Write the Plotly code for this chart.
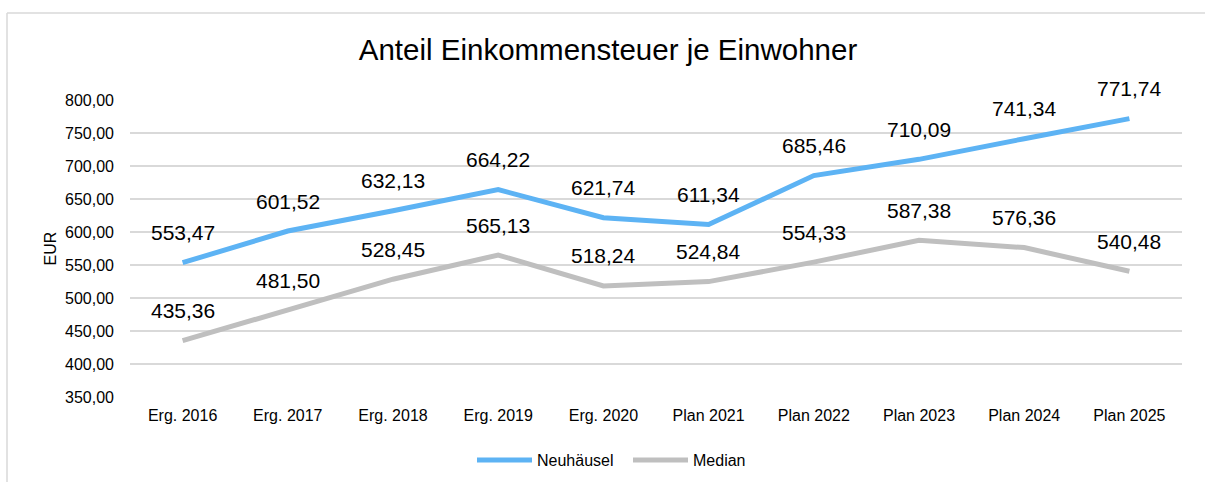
import plotly.graph_objects as go

categories = ["Erg. 2016", "Erg. 2017", "Erg. 2018", "Erg. 2019", "Erg. 2020",
              "Plan 2021", "Plan 2022", "Plan 2023", "Plan 2024", "Plan 2025"]
neuhaeusel = [553.47, 601.52, 632.13, 664.22, 621.74, 611.34, 685.46, 710.09, 741.34, 771.74]
median = [435.36, 481.50, 528.45, 565.13, 518.24, 524.84, 554.33, 587.38, 576.36, 540.48]
y_ticks = [350, 400, 450, 500, 550, 600, 650, 700, 750, 800]

def de(v):
    return f"{v:,.2f}".replace(",", "X").replace(".", ",").replace("X", ".")

FONT = "Liberation Sans, Arial, sans-serif"
BLUE = "#5DB3F4"
GRAY = "#BFBFBF"

fig = go.Figure()
fig.add_trace(go.Scatter(x=categories, y=neuhaeusel, name="Neuhäusel", mode="lines",
                         line=dict(color=BLUE, width=5)))
fig.add_trace(go.Scatter(x=categories, y=median, name="Median", mode="lines",
                         line=dict(color=GRAY, width=5)))

L, R, T, B = 130, 23, 100, 85
W, H = 1205, 482
pw, ph = W - L - R, H - T - B
def px_x(p): return (p - L) / pw
def px_y(p): return (H - B - p) / ph

annotations = []
for series in (neuhaeusel, median):
    for c, v in zip(categories, series):
        annotations.append(dict(x=c, y=v, text=de(v), showarrow=False, yshift=30,
                                font=dict(family=FONT, size=21, color="#000000")))
# y-axis title
annotations.append(dict(xref="paper", yref="paper", x=px_x(50), y=0.5, text="EUR", textangle=-90,
                        showarrow=False, xanchor="center", yanchor="middle",
                        font=dict(family=FONT, size=16, color="#000000")))

shapes = [
    dict(type="line", xref="paper", yref="paper", x0=px_x(7), x1=px_x(1215), y0=px_y(13), y1=px_y(13),
         line=dict(color="#D9D9D9", width=1.5)),
    dict(type="line", xref="paper", yref="paper", x0=px_x(7), x1=px_x(7), y0=px_y(13), y1=px_y(495),
         line=dict(color="#D9D9D9", width=1.5)),
]

fig.update_layout(
    width=W, height=H,
    margin=dict(l=L, r=R, t=T, b=B, autoexpand=False),
    paper_bgcolor="white", plot_bgcolor="white",
    title=dict(text="Anteil Einkommensteuer je Einwohner", x=608 / W, xref="container", xanchor="center",
               y=1 - 50 / H, yanchor="middle",
               font=dict(family=FONT, size=29.5, color="#000000")),
    font=dict(family=FONT, color="#000000"),
    xaxis=dict(type="category", range=[-0.5, 9.5], showgrid=False, showline=False, zeroline=False,
               ticks="", ticklabelstandoff=7, tickfont=dict(family=FONT, size=16, color="#000000")),
    yaxis=dict(range=[350, 800], tickvals=y_ticks, ticktext=[de(v) for v in y_ticks],
               showgrid=True, gridcolor="#D9D9D9", gridwidth=1.5, zeroline=False, showline=False,
               ticks="", ticklabelstandoff=15,
               tickfont=dict(family=FONT, size=16, color="#000000")),
    legend=dict(orientation="h", xref="container", x=472 / W, xanchor="left",
                y=px_y(460), yanchor="middle",
                font=dict(family=FONT, size=16, color="#000000"), itemwidth=55,
                entrywidth=86, entrywidthmode="pixels",
                bgcolor="rgba(0,0,0,0)"),
    annotations=annotations,
    shapes=shapes,
)

fig.write_html("out.html", post_script="document.body.style.margin='0';",
               config={"displayModeBar": False})
